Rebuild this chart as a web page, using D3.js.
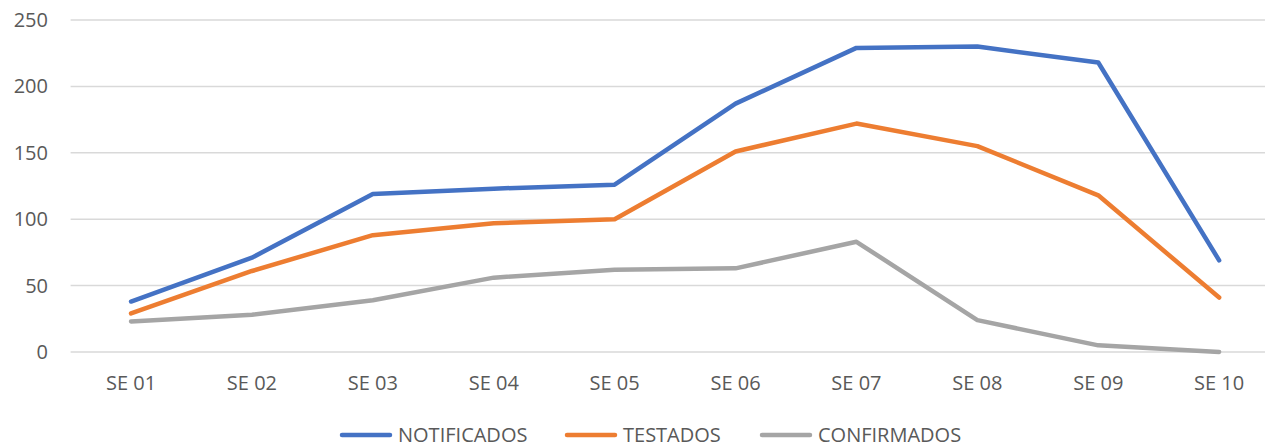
<!DOCTYPE html>
<html><head><meta charset="utf-8">
<script src="https://cdn.jsdelivr.net/npm/d3@7"></script>
<style>body{margin:0;background:#fff;overflow:hidden}svg{display:block}text{font-family:"Open Sans",sans-serif;fill:#595959}</style>
</head><body><svg id="c" width="1265" height="447"></svg>
<script>
const categories = ["SE 01","SE 02","SE 03","SE 04","SE 05","SE 06","SE 07","SE 08","SE 09","SE 10"];
const notificados = [38,71,119,123,126,187,229,230,218,69];
const testados = [29,61,88,97,100,151,172,155,118,41];
const confirmados = [23,28,39,56,62,63,83,24,5,0];
const yTicks = [0,50,100,150,200,250];
const seriesNames = ["NOTIFICADOS","TESTADOS","CONFIRMADOS"];
const colors = ["#4472C4","#ED7D31","#A5A5A5"];

const svg = d3.select("#c");
const x = d3.scaleBand().domain(categories).range([70.6, 1279.6]);
const y = d3.scaleLinear().domain([0,250]).range([352, 20]);

svg.append("g").selectAll("line").data(yTicks).join("line")
  .attr("x1",70.6).attr("x2",1265).attr("y1",d=>y(d)).attr("y2",d=>y(d))
  .attr("stroke","#d9d9d9").attr("stroke-width",1.5);

svg.append("g").selectAll("text").data(yTicks).join("text")
  .attr("x",48).attr("y",d=>y(d)).attr("dy","0.35em").attr("text-anchor","end")
  .attr("font-size",20).text(d=>d);

svg.append("g").selectAll("text").data(categories).join("text")
  .attr("x",d=>x(d)+x.bandwidth()/2).attr("y",383).attr("dy","0.35em").attr("text-anchor","middle")
  .attr("font-size",20).text(d=>d);

const line = d3.line().x((d,i)=>x(categories[i])+x.bandwidth()/2).y(d=>y(d));
[notificados,testados,confirmados].forEach((s,k)=>{
  svg.append("path").datum(s).attr("d",line).attr("fill","none")
    .attr("stroke",colors[k]).attr("stroke-width",4.5).attr("stroke-linejoin","round").attr("stroke-linecap","round");
});

const legX = [340,565,760];
const lg = svg.append("g");
seriesNames.forEach((n,k)=>{
  lg.append("line").attr("x1",legX[k]+2).attr("x2",legX[k]+50).attr("y1",435).attr("y2",435)
    .attr("stroke",colors[k]).attr("stroke-width",4.5).attr("stroke-linecap","round");
  lg.append("text").attr("x",legX[k]+58).attr("y",435).attr("dy","0.35em").attr("font-size",20).text(n);
});
</script></body></html>
